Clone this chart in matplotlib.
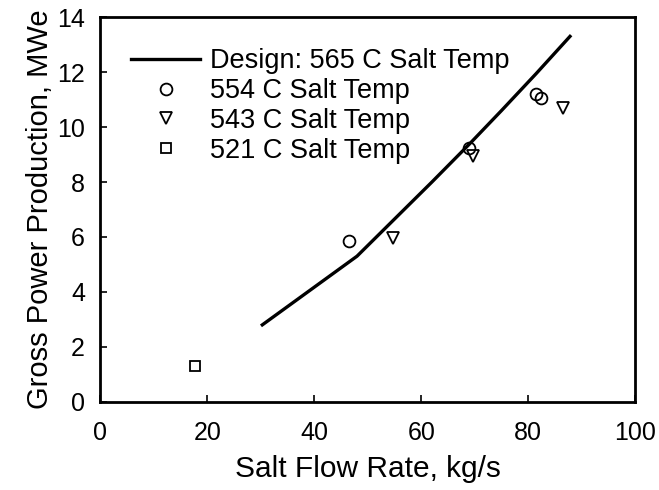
import matplotlib
matplotlib.use('Agg')
import matplotlib.pyplot as plt

plt.rcParams['font.family'] = ['Liberation Sans', 'DejaVu Sans']

# design curve, 565 C
design_flow = [30.3, 48.0, 55.0, 62.0, 69.0, 75.0, 81.5, 87.8]
design_power = [2.8, 5.3, 6.65, 8.0, 9.38, 10.6, 11.95, 13.3]

# measured points
flow_554 = [46.5, 69.0, 81.4, 82.4]
power_554 = [5.85, 9.25, 11.2, 11.05]
flow_543 = [54.7, 69.6, 86.4]
power_543 = [5.95, 8.95, 10.7]
flow_521 = [17.8]
power_521 = [1.32]

fig = plt.figure(figsize=(6.59, 4.9), dpi=100)
ax = fig.add_axes([0.152, 0.180, 0.812, 0.785])

ax.plot(design_flow, design_power, color='black', lw=2.4, label='Design: 565 C Salt Temp')
ax.plot(flow_554, power_554, 'o', ms=8.5, mfc='none', mec='black', mew=1.3, label='554 C Salt Temp')
ax.plot(flow_543, power_543, 'v', ms=8.5, mfc='none', mec='black', mew=1.3, label='543 C Salt Temp')
ax.plot(flow_521, power_521, 's', ms=7, mfc='none', mec='black', mew=1.3, label='521 C Salt Temp')

ax.set_xlim(0, 100)
ax.set_ylim(0, 14)
ax.set_xticks([0, 20, 40, 60, 80, 100])
ax.set_yticks([0, 2, 4, 6, 8, 10, 12, 14])
ax.tick_params(direction='in', length=5, width=1.2, labelsize=18)
ax.tick_params(axis='x', pad=14)
ax.tick_params(axis='y', pad=11)
for s in ax.spines.values():
    s.set_linewidth(2)

ax.set_xlabel('Salt Flow Rate, kg/s', fontsize=21.5, labelpad=7)
ax.set_ylabel('Gross Power Production, MWe', fontsize=21, labelpad=2)

ax.legend(loc='upper left', bbox_to_anchor=(0.058, 0.919), frameon=False, fontsize=19.5,
          handlelength=2.55, handletextpad=0.35, labelspacing=0.14,
          borderpad=0, borderaxespad=0)

fig.savefig('out.png', dpi=100)
